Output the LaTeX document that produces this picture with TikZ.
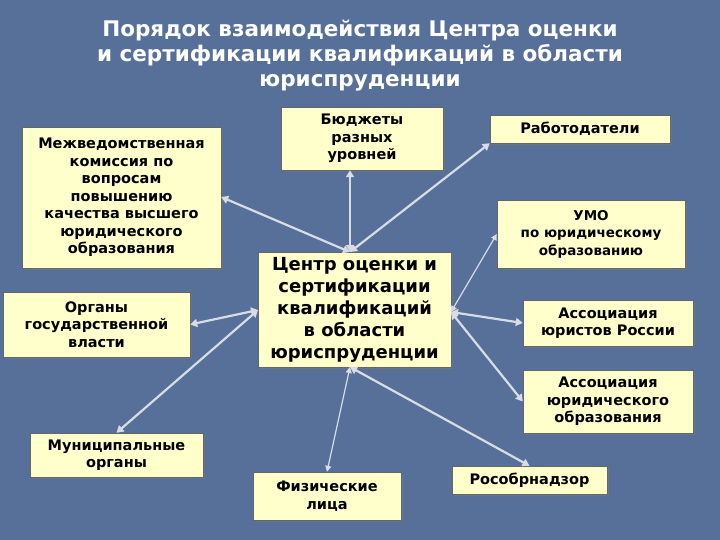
\documentclass[tikz,border=0pt]{standalone}
\usepackage{fontspec}
\setmainfont{DejaVu Sans}
\usetikzlibrary{arrows.meta,shadows}
\definecolor{bg}{HTML}{56709A}
\definecolor{cream}{HTML}{FFFFCC}
\definecolor{arr}{HTML}{D8DCE4}
\tikzset{
 bx/.style={draw=black!60,fill=cream,inner sep=0pt,align=center,font=\bfseries\fontsize{14.5}{17.5}\selectfont,drop shadow={shadow xshift=2pt,shadow yshift=-2pt,opacity=.35}},
 con/.style={draw=arr,line width=2.2pt,{Triangle[length=7pt,width=8pt]}-{Triangle[length=7pt,width=8pt]}},
 thin/.style={draw=arr,line width=1.2pt,{Triangle[length=6pt,width=6pt]}-{Triangle[length=6pt,width=6pt]}}
}
\begin{document}
\begin{tikzpicture}[x=1pt,y=-1pt]
\fill[bg] (0,0) rectangle (720,540);
\useasboundingbox (0,0) rectangle (720,540);
\node[text=white,font=\bfseries\fontsize{21.5}{25}\selectfont,align=center] (title) at (360,56) {Порядок взаимодействия Центра оценки\\и сертификации квалификаций в области\\юриспруденции};
\node[bx,minimum width=199,minimum height=141] (mv) at (121.5,197.5) {Межведомственная\\комиссия по\\вопросам\\повышению\\качества высшего\\юридического\\образования};
\node[bx,minimum width=187,minimum height=65] (og) at (96.5,324.5) {Органы\\государственной\\власти};
\node[bx,minimum width=173,minimum height=44] (mu) at (116.5,455) {Муниципальные\\органы};
\node[bx,minimum width=162,minimum height=63] (bu) at (362,138.5) {Бюджеты\\разных\\уровней};
\node[bx,minimum width=193,minimum height=115,font=\bfseries\fontsize{18}{22}\selectfont] (c) at (354.5,309.5) {Центр оценки и\\сертификации\\квалификаций\\в области\\юриспруденции};
\node[bx,minimum width=148,minimum height=48] (fz) at (327,496) {Физические\\лица};
\node[bx,minimum width=180,minimum height=28] (rb) at (580,129) {Работодатели};
\node[bx,minimum width=188,minimum height=68,font=\bfseries\fontsize{13.5}{17.5}\selectfont] (umo) at (591,234) {УМО\\по юридическому\\образованию};
\node[bx,minimum width=170,minimum height=46] (ay) at (608,323) {Ассоциация\\юристов России};
\node[bx,minimum width=170,minimum height=63] (ayo) at (608,401.5) {Ассоциация\\юридического\\образования};
\node[bx,minimum width=155,minimum height=28] (ro) at (529.5,480) {Рособрнадзор};
\coordinate (ct) at (350,252);
\coordinate (cb) at (350,367);
\coordinate (cl) at (258,310);
\coordinate (cr) at (451,312);
\draw[con] (ct) -- (bu.south -| ct);
\draw[con] (ct) -- (mv.east |- 0,197);
\draw[con] (ct) -- (rb.south west);
\draw[thin] (cr) -- (umo.west);
\draw[con] (cr) -- (ay.west);
\draw[con] (cr) -- (ayo.west);
\draw[con] (cl) -- (og.east);
\draw[con] (cl) -- (mu.north);
\draw[thin] (cb) -- (fz.north);
\draw[con] (cb) -- (ro.north);
\end{tikzpicture}
\end{document}
